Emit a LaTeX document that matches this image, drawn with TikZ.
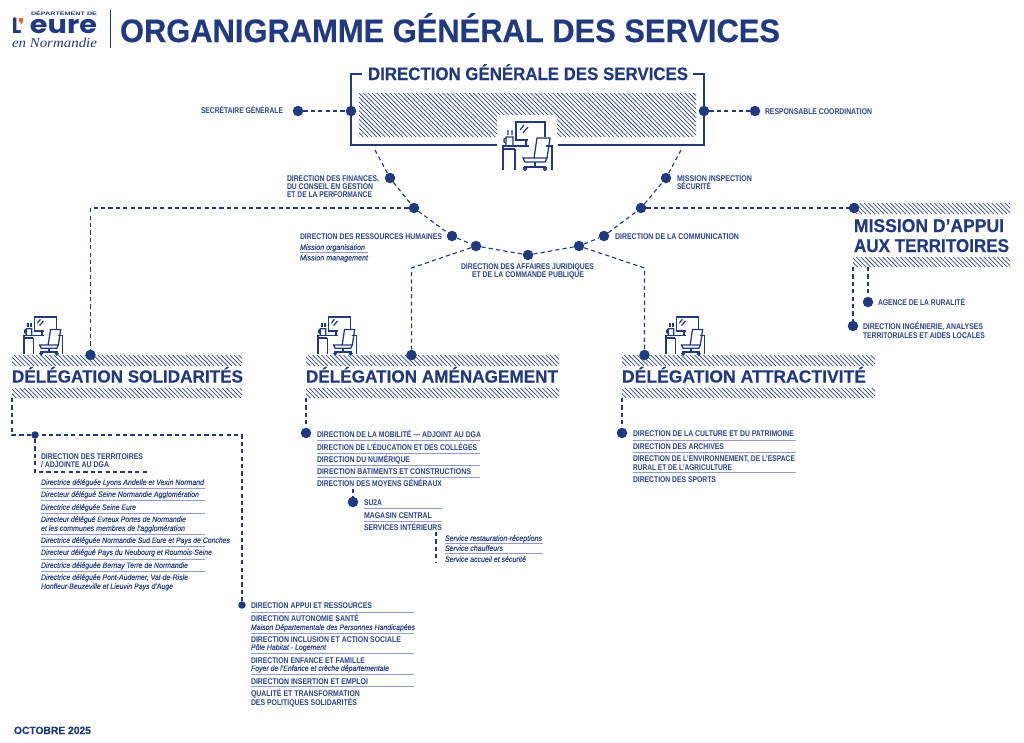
\documentclass[tikz,border=0pt]{standalone}
\usepackage{graphicx}
\usepackage{fontspec}
\setmainfont{Liberation Sans}
\newfontfamily\logofont{Poppins}
\newfontfamily\scrfont{Liberation Serif}
\newfontfamily\hdfam[BoldFeatures={FakeBold=0.35}]{Liberation Sans}
\newfontfamily\itfam[ItalicFeatures={FakeBold=0.2}]{Liberation Sans}
\definecolor{navy}{HTML}{20397F}
\definecolor{softnavy}{HTML}{2C4589}
\definecolor{rulec}{HTML}{8D9CC9}
\definecolor{orangec}{HTML}{E4682A}
\newsavebox\fitbox
\newcounter{tc}
\newcommand\fitw[2]{\sbox\fitbox{#2}\pgfmathsetmacro\fs{(#1)/\wd\fitbox}\scalebox{\fs}[1]{\usebox\fitbox}}
\newcommand\lbf{\color{softnavy}\fontsize{8.3}{9}\selectfont\bfseries}
\newcommand\itf{\color{softnavy}\itfam\fontsize{7.8}{9}\selectfont\itshape}
\newcommand\hdf[1]{\hdfam\fontsize{#1}{20}\selectfont\bfseries}
\newcommand\tb[5]{\stepcounter{tc}\node[txt] (t\thetc) at (#1,#2) {\fitw{#3-#1}{#4#5}};}
\newcommand\lab[4]{\tb{#1}{#2+3.3}{#3}{\lbf}{#4}}
\newcommand\itl[4]{\tb{#1}{#2+2.9}{#3}{\itf}{#4}}
\newcommand\rl[3]{\draw[rulel] (#1,#3) -- (#2,#3);}
\newcommand\hatch[4]{\begin{scope}\clip (#1,#2) rectangle (#3,#4);
\pgfmathsetmacro\hh{#4-#2}\pgfmathtruncatemacro\nn{(#3-#1+\hh)/4.4}
\foreach \i in {0,...,\nn}{\draw[hatchl] (#1-\hh+\i*4.4,#2) -- ++(\hh,\hh);}
\end{scope}}
\newcommand\desk[3]{\begin{scope}[shift={(#1,#2)},scale=#3,iconl]
\draw (25,18) -- (13,18) -- (13,0) -- (42,0) -- (42,15);
\draw (17,8) -- (21,3) (20,11) -- (25,5);
\draw (23,18) -- (23,24);
\draw (0,48) -- (0,24) -- (26,24) (0,27) -- (12,27) (12,27) -- (12,48) (43,24) -- (49,24) -- (49,48);
\draw (3,23) -- (3,15) -- (10,15) -- (10,23) (3,16) -- (1,17) -- (1,20) -- (3,21);
\draw (5,13) .. controls (4,11) and (6,10) .. (5,8) (9,13) .. controls (8,11) and (10,10) .. (9,8);
\draw (31,36) -- (34,16) -- (47,16) -- (44,36) (20,36) -- (44,36) -- (42,40) -- (22,40) -- cycle;
\draw (32,40) -- (32,44) (21,45) -- (43,45) (21,45) -- (21,46) (43,45) -- (43,46);
\draw (22,47) circle (1.6) (42,47) circle (1.6);
\end{scope}}
\tikzset{
 txt/.style={anchor=base west,inner sep=0pt,outer sep=0pt,text=navy},
 rulel/.style={draw=rulec,line width=.7pt},
 hatchl/.style={draw=navy!90,line width=.72pt},
 iconl/.style={draw=navy,line width=1.25pt,fill=none},
 dashl/.style={draw=navy,line width=1.1pt,dash pattern=on 4.2pt off 3.2pt},
 solidl/.style={draw=navy,line width=1.7pt},
 dotl/.style={circle,fill=navy,inner sep=0pt,minimum size=10.5pt},
 dots/.style={circle,fill=navy,inner sep=0pt,minimum size=7.5pt},
}
\begin{document}
\begin{tikzpicture}[x=1pt,y=-1pt]
\useasboundingbox[fill=white] (0,0) rectangle (1024,742);
% logo and title
\tb{31}{15.2}{97}{\fontsize{5}{6}\selectfont\bfseries}{DÉPARTEMENT DE}
\tb{12}{33}{21.5}{\logofont\fontsize{22}{24}\selectfont\bfseries}{L}
\fill[orangec] (19,18) -- (23,18) -- (23,22) -- (20.5,25) -- (20.5,22) -- (19,22) -- cycle;
\tb{30}{33}{97}{\logofont\fontsize{25}{30}\selectfont\bfseries}{eure}
\tb{12}{47}{97}{\scrfont\itshape\fontsize{13.5}{14}\selectfont}{en Normandie}
\draw[navy,line width=.9pt] (110,10) -- (110,48);
\tb{120}{42}{780}{\hdf{32.5}}{ORGANIGRAMME GÉNÉRAL DES SERVICES}
% DGS
\tb{368}{80}{688}{\hdf{18}}{DIRECTION GÉNÉRALE DES SERVICES}
\hatch{359}{93}{696}{137}
\fill[white] (497,115) rectangle (557,147);
\draw[solidl] (362,74) -- (351,74) -- (351,145) -- (497,145);
\draw[solidl] (693,74) -- (704,74) -- (704,145) -- (558,145);
\desk{503}{122}{1}
\node[dotl] (sg) at (298,111) {};
\node[dotl] (bl) at (351,111) {};
\node[dotl] (br) at (704,111) {};
\node[dotl] (rc) at (755,111) {};
\draw[dashl] (sg) -- (bl);
\draw[dashl] (br) -- (rc);
\lab{201}{110}{283}{SECRÉTAIRE GÉNÉRALE}
\lab{765}{111}{872}{RESPONSABLE COORDINATION}
% arc
\coordinate (a0) at (375,150);
\node[dotl] (a1) at (390,178) {};
\node[dotl] (a2) at (414,208) {};
\node[dotl] (a3) at (452,236) {};
\node[dotl] (a4) at (476,246) {};
\node[dotl] (a5) at (528,255) {};
\node[dotl] (a6) at (579,246) {};
\node[dotl] (a7) at (604,236) {};
\node[dotl] (a8) at (641,208) {};
\node[dotl] (a9) at (666,178) {};
\coordinate (a10) at (681,150);
\draw[dashl] (a0) -- (a1) -- (a2) -- (a3) -- (a4) -- (a5) -- (a6) -- (a7) -- (a8) -- (a9) -- (a10);
\lab{287}{178}{379}{DIRECTION DES FINANCES,}
\lab{287}{186}{373}{DU CONSEIL EN GESTION}
\lab{287}{194.5}{372}{ET DE LA PERFORMANCE}
\lab{300}{236}{442}{DIRECTION DES RESSOURCES HUMAINES}
\itl{300}{247}{365}{Mission organisation}
\rl{300}{368}{252}
\itl{300}{257.5}{368}{Mission management}
\lab{461}{266}{594}{DIRECTION DES AFFAIRES JURIDIQUES}
\lab{472}{274.5}{584}{ET DE LA COMMANDE PUBLIQUE}
\lab{615}{236}{739}{DIRECTION DE LA COMMUNICATION}
\lab{677}{178}{752}{MISSION INSPECTION}
\lab{677}{186}{711}{SÉCURITÉ}
% Mission d'appui
\hatch{853}{203}{1010}{214}
\hatch{853}{257}{1010}{267}
\tb{854}{232}{1004}{\hdf{18.5}}{MISSION D’APPUI}
\tb{854}{252}{1009}{\hdf{18.5}}{AUX TERRITOIRES}
\node[dotl] (ma) at (854,208) {};
\draw[dashl] (a8) -- (ma);
\coordinate (mb1) at (853,267);
\coordinate (mb2) at (868,267);
\node[dotl] (ma1) at (868,302) {};
\node[dotl] (ma2) at (853,326) {};
\draw[dashl] (mb1) -- (ma2);
\draw[dashl] (mb2) -- (ma1);
\lab{878}{302}{965}{AGENCE DE LA RURALITÉ}
\lab{863}{326}{983}{DIRECTION INGÉNIERIE, ANALYSES}
\lab{863}{335}{985}{TERRITORIALES ET AIDES LOCALES}
% Solidarites
\desk{24}{317}{.78}
\hatch{12}{355}{242}{366}
\hatch{12}{388}{242}{398}
\tb{12}{382.5}{243}{\hdf{17.5}}{DÉLÉGATION SOLIDARITÉS}
\node[dotl] (so) at (90.5,355) {};
\coordinate (c1) at (90.5,208);
\draw[dashl] (a2) -- (c1) -- (so);
\coordinate (s0) at (12,398);
\coordinate (s1) at (12,435);
\coordinate (s2) at (242,435);
\node[dots] (sd) at (35,435) {};
\node[dots] (sa) at (242,605) {};
\draw[dashl] (s0) -- (s1) -- (s2) -- (sa);
\coordinate (s3) at (35,472);
\coordinate (s4) at (147,472);
\draw[dashl] (sd) -- (s3) -- (s4);
\lab{41}{456}{143}{DIRECTION DES TERRITOIRES}
\lab{41}{464.5}{109}{/ ADJOINTE AU DGA}
\itl{41}{482}{204}{Directrice déléguée Lyons Andelle et Vexin Normand}
\rl{41}{205}{488}
\itl{41}{494}{199}{Directeur délégué Seine Normandie Agglomération}
\rl{41}{205}{500}
\itl{41}{507}{136}{Directrice déléguée Seine Eure}
\rl{41}{205}{513}
\itl{41}{519}{186}{Directeur délégué Evreux Portes de Normandie}
\itl{41}{528}{185}{et les communes membres de l’agglomération}
\rl{41}{205}{534}
\itl{41}{540}{230}{Directrice déléguée Normandie Sud Eure et Pays de Conches}
\rl{41}{205}{546}
\itl{41}{552}{212}{Directeur délégué Pays du Neubourg et Roumois-Seine}
\rl{41}{205}{559}
\itl{41}{565}{188}{Directrice déléguée Bernay Terre de Normandie}
\rl{41}{205}{571}
\itl{41}{577}{188}{Directrice déléguée Pont-Audemer, Val-de-Risle}
\itl{41}{586}{173}{Honfleur-Beuzeville et Lieuvin Pays d’Auge}
% Appui
\lab{251}{605}{372}{DIRECTION APPUI ET RESSOURCES}
\rl{251}{414}{612}
\lab{251}{618}{359}{DIRECTION AUTONOMIE SANTÉ}
\itl{251}{627}{415}{Maison Départementale des Personnes Handicapées}
\rl{251}{414}{633}
\lab{251}{639}{401}{DIRECTION INCLUSION ET ACTION SOCIALE}
\itl{251}{647}{326}{Pôle Habitat - Logement}
\rl{251}{414}{653}
\lab{251}{660}{365}{DIRECTION ENFANCE ET FAMILLE}
\itl{251}{668}{389}{Foyer de l’Enfance et crèche départementale}
\rl{251}{414}{674}
\lab{251}{681}{368}{DIRECTION INSERTION ET EMPLOI}
\rl{251}{414}{686}
\lab{251}{693}{360}{QUALITÉ ET TRANSFORMATION}
\lab{251}{702}{357}{DES POLITIQUES SOLIDARITÉS}
% Amenagement
\desk{318}{317}{.78}
\hatch{306}{355}{559}{366}
\hatch{306}{388}{559}{398}
\tb{306}{382.5}{558}{\hdf{17.5}}{DÉLÉGATION AMÉNAGEMENT}
\node[dotl] (am) at (411.5,355) {};
\coordinate (c2) at (411.5,268);
\draw[dashl] (a4) -- (c2) -- (am);
\coordinate (am0) at (306,398);
\node[dotl] (am1) at (306,433) {};
\draw[dashl] (am0) -- (am1);
\lab{317}{434}{481}{DIRECTION DE LA MOBILITÉ — ADJOINT AU DGA}
\rl{317}{480}{440}
\lab{317}{447}{477}{DIRECTION DE L’ÉDUCATION ET DES COLLÈGES}
\rl{317}{480}{453}
\lab{317}{459}{410}{DIRECTION DU NUMÉRIQUE}
\rl{317}{480}{465}
\lab{317}{471}{471}{DIRECTION BATIMENTS ET CONSTRUCTIONS}
\rl{317}{480}{477}
\lab{317}{483}{442}{DIRECTION DES MOYENS GÉNÉRAUX}
\coordinate (am2) at (353,489);
\node[dotl] (am3) at (353,502) {};
\draw[dashl] (am2) -- (am3);
\lab{364}{502}{382}{SU2A}
\rl{364}{442}{508}
\lab{364}{515}{432}{MAGASIN CENTRAL}
\rl{364}{442}{521}
\lab{364}{527}{442}{SERVICES INTÉRIEURS}
\coordinate (am4) at (436,532);
\coordinate (am5) at (436,562);
\draw[dashl] (am4) -- (am5);
\itl{445}{538}{542}{Service restauration-réceptions}
\rl{445}{543}{543}
\itl{445}{548}{503}{Service chauffeurs}
\rl{445}{543}{553}
\itl{445}{559}{526}{Service accueil et sécurité}
% Attractivite
\desk{666}{317}{.78}
\hatch{622}{355}{875}{366}
\hatch{622}{388}{875}{398}
\tb{622}{382.5}{866}{\hdf{17.5}}{DÉLÉGATION ATTRACTIVITÉ}
\node[dotl] (at) at (644.5,355) {};
\coordinate (c3) at (644.5,268);
\draw[dashl] (a6) -- (c3) -- (at);
\coordinate (at0) at (622,398);
\node[dotl] (at1) at (622,433) {};
\draw[dashl] (at0) -- (at1);
\lab{633}{433}{794}{DIRECTION DE LA CULTURE ET DU PATRIMOINE}
\rl{633}{796}{440}
\lab{633}{446}{724}{DIRECTION DES ARCHIVES}
\rl{633}{796}{452}
\lab{633}{458}{795}{DIRECTION DE L’ENVIRONNEMENT, DE L’ESPACE}
\lab{633}{467}{732}{RURAL ET DE L’AGRICULTURE}
\rl{633}{796}{472}
\lab{633}{479}{716}{DIRECTION DES SPORTS}
% date
\tb{14}{734}{91}{\hdf{10.5}}{OCTOBRE 2025}
\end{tikzpicture}
\end{document}
